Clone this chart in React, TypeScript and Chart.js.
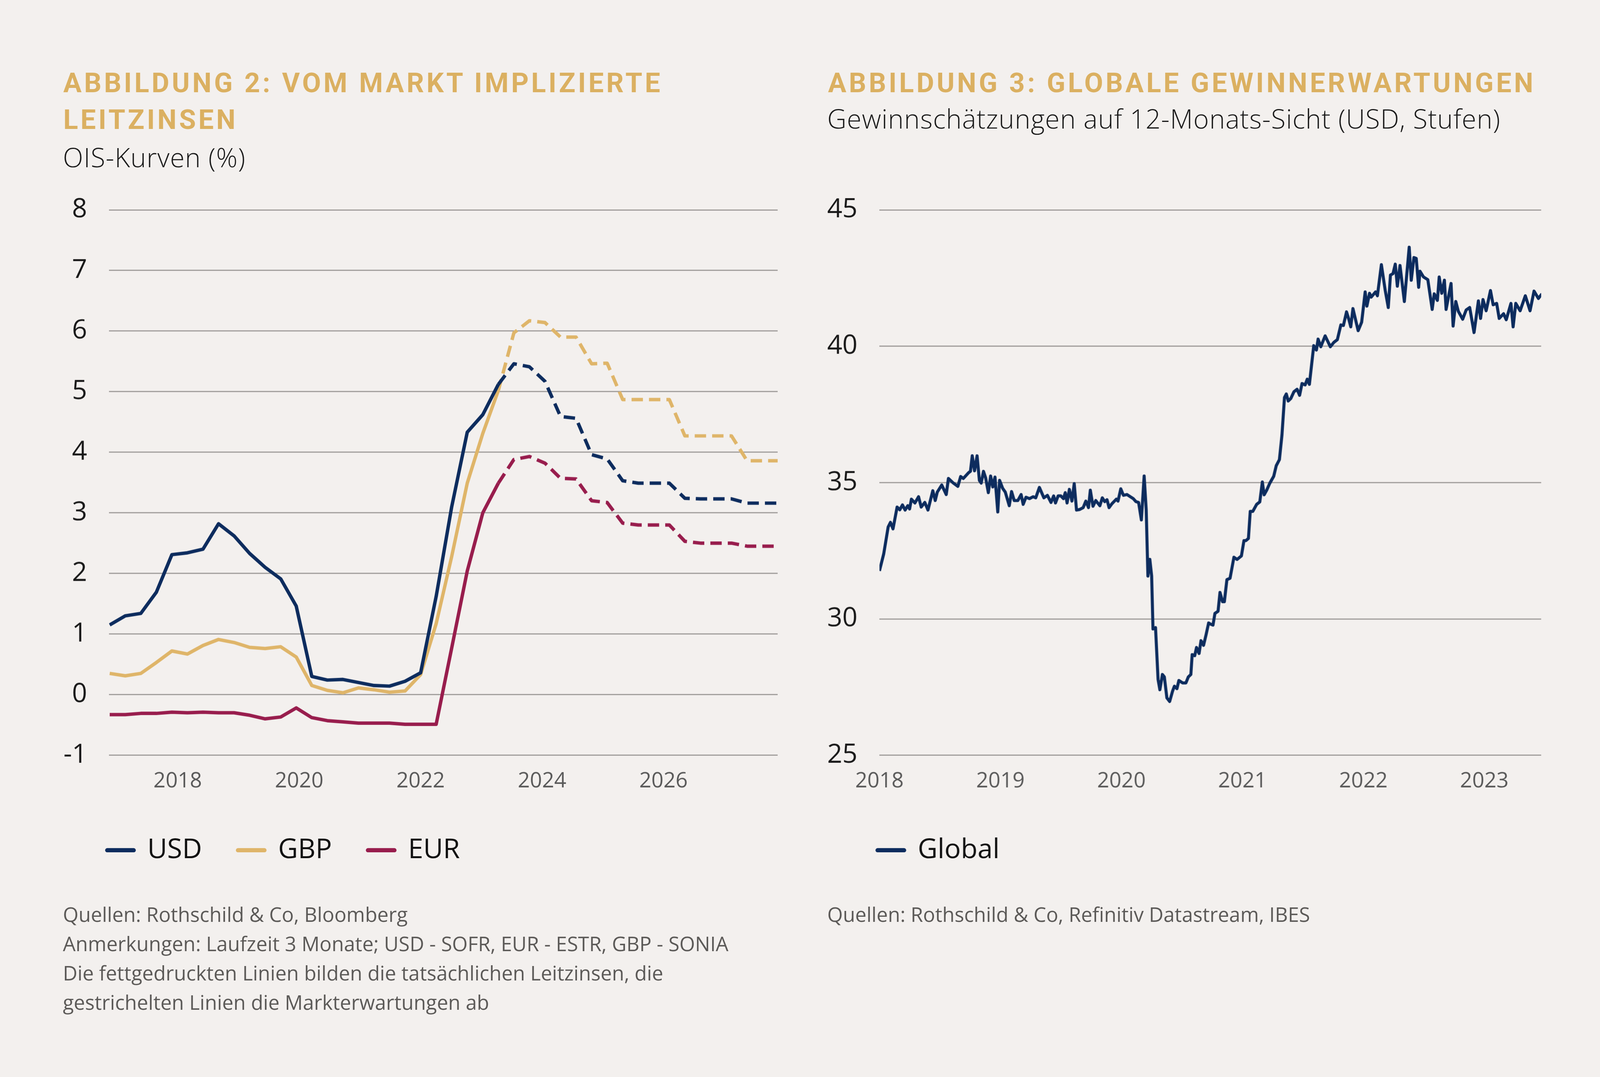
import { useEffect, useRef } from 'react'
import { Chart, ChartConfiguration, registerables } from 'chart.js'

Chart.register(...registerables)

// layout is designed on a 4224 x 2756 page; scale it to the real viewport
const SX = typeof window !== 'undefined' && window.innerWidth ? window.innerWidth / 4224 : 1
const SY = typeof window !== 'undefined' && window.innerHeight ? window.innerHeight / 2756 : 1
const px = (n: number) => n * SX
const py = (n: number) => n * SY

const NAVY = '#0d2c5e'
const GOLD = '#dfb569'
const WINE = '#981d4d'
const GRID = '#a09d9b'
const BG = '#f3f0ee'
const TITLE_GOLD = '#dbb061'
const SANS = '"Open Sans", "Noto Sans", sans-serif'

// Abbildung 2: quarterly observations, first one late 2016
const obsStart = 2016.88
const obsStep = 0.256 // years between observations
const forecastFrom = 25 // index where the dashed (market expectation) part starts

const usdActual = [1.15, 1.3, 1.34, 1.69, 2.31, 2.34, 2.4, 2.82, 2.62, 2.33, 2.1, 1.91, 1.46, 0.3, 0.24, 0.25, 0.2, 0.15, 0.14, 0.22, 0.36, 1.62, 3.1, 4.33, 4.62, 5.12]
const gbpActual = [0.35, 0.31, 0.35, 0.53, 0.72, 0.67, 0.81, 0.91, 0.86, 0.78, 0.76, 0.79, 0.62, 0.15, 0.07, 0.03, 0.11, 0.08, 0.04, 0.06, 0.33, 1.17, 2.28, 3.49, 4.31, 5.02]
const eurActual = [-0.33, -0.33, -0.31, -0.31, -0.29, -0.3, -0.29, -0.3, -0.3, -0.34, -0.4, -0.37, -0.22, -0.38, -0.43, -0.45, -0.47, -0.47, -0.47, -0.49, -0.49, -0.49, 0.77, 2.04, 3.0, 3.49]

const usdExpected = [5.12, 5.46, 5.41, 5.17, 4.59, 4.56, 3.96, 3.89, 3.53, 3.49, 3.49, 3.49, 3.24, 3.23, 3.23, 3.23, 3.16, 3.16, 3.16]
const gbpExpected = [5.02, 5.97, 6.17, 6.14, 5.9, 5.9, 5.46, 5.47, 4.87, 4.87, 4.87, 4.87, 4.27, 4.27, 4.27, 4.27, 3.86, 3.86, 3.86]
const eurExpected = [3.49, 3.88, 3.93, 3.82, 3.57, 3.56, 3.2, 3.17, 2.83, 2.8, 2.8, 2.8, 2.53, 2.5, 2.5, 2.5, 2.45, 2.45, 2.45]

const rateYearTicks = [2018, 2020, 2022, 2024, 2026]

// Abbildung 3: 12m forward EPS, global (USD)
const globalDates = [
  2018.0, 2018.035, 2018.072, 2018.091, 2018.112, 2018.146, 2018.168, 2018.19, 2018.212, 2018.234,
  2018.249, 2018.264, 2018.293, 2018.323, 2018.345, 2018.375, 2018.401, 2018.441, 2018.461, 2018.478,
  2018.515, 2018.552, 2018.57, 2018.611, 2018.648, 2018.671, 2018.693, 2018.737, 2018.752, 2018.767,
  2018.786, 2018.807, 2018.826, 2018.841, 2018.86, 2018.878, 2018.9, 2018.919, 2018.937, 2018.955,
  2018.978, 2018.993, 2019.018, 2019.04, 2019.073, 2019.092, 2019.114, 2019.144, 2019.171, 2019.188,
  2019.211, 2019.24, 2019.27, 2019.292, 2019.322, 2019.359, 2019.388, 2019.418, 2019.44, 2019.455,
  2019.477, 2019.499, 2019.521, 2019.536, 2019.551, 2019.57, 2019.591, 2019.61, 2019.629, 2019.654,
  2019.684, 2019.706, 2019.728, 2019.743, 2019.765, 2019.788, 2019.822, 2019.842, 2019.862, 2019.881,
  2019.898, 2019.921, 2019.958, 2019.972, 2019.995, 2020.017, 2020.046, 2020.098, 2020.12, 2020.142,
  2020.165, 2020.188, 2020.205, 2020.219, 2020.235, 2020.25, 2020.261, 2020.282, 2020.303, 2020.318,
  2020.339, 2020.355, 2020.376, 2020.399, 2020.423, 2020.438, 2020.459, 2020.475, 2020.506, 2020.533,
  2020.553, 2020.574, 2020.585, 2020.606, 2020.621, 2020.642, 2020.658, 2020.679, 2020.7, 2020.721,
  2020.736, 2020.757, 2020.773, 2020.799, 2020.815, 2020.836, 2020.851, 2020.872, 2020.898, 2020.93,
  2020.956, 2020.992, 2021.013, 2021.029, 2021.05, 2021.065, 2021.086, 2021.118, 2021.144, 2021.165,
  2021.18, 2021.201, 2021.227, 2021.259, 2021.28, 2021.306, 2021.327, 2021.348, 2021.363, 2021.379,
  2021.4, 2021.426, 2021.452, 2021.473, 2021.493, 2021.519, 2021.536, 2021.554, 2021.59, 2021.612,
  2021.626, 2021.648, 2021.684, 2021.727, 2021.756, 2021.785, 2021.814, 2021.835, 2021.861, 2021.881,
  2021.896, 2021.914, 2021.957, 2021.986, 2022.015, 2022.029, 2022.051, 2022.065, 2022.101, 2022.116,
  2022.149, 2022.181, 2022.206, 2022.224, 2022.245, 2022.264, 2022.281, 2022.303, 2022.339, 2022.379,
  2022.396, 2022.418, 2022.437, 2022.457, 2022.468, 2022.497, 2022.533, 2022.569, 2022.586, 2022.612,
  2022.627, 2022.648, 2022.67, 2022.684, 2022.725, 2022.742, 2022.764, 2022.785, 2022.821, 2022.85,
  2022.879, 2022.915, 2022.951, 2022.969, 2022.989, 2023.015, 2023.051, 2023.073, 2023.102, 2023.123,
  2023.159, 2023.181, 2023.22, 2023.238, 2023.26, 2023.296, 2023.339, 2023.378, 2023.411, 2023.447,
  2023.476,
]
const globalEps = [
  31.76, 32.38, 33.37, 33.54, 33.3, 34.1, 34.0, 34.18, 33.99, 34.15,
  34.03, 34.39, 34.25, 34.48, 34.1, 34.27, 33.99, 34.7, 34.34, 34.65,
  34.91, 34.56, 35.15, 34.98, 34.86, 35.22, 35.15, 35.36, 35.41, 35.98,
  35.43, 35.98, 35.08, 34.98, 35.41, 35.17, 34.63, 35.24, 34.84, 35.2,
  33.92, 35.08, 34.79, 34.65, 34.15, 34.67, 34.34, 34.34, 34.56, 34.2,
  34.46, 34.41, 34.48, 34.44, 34.82, 34.44, 34.53, 34.27, 34.51, 34.25,
  34.51, 34.51, 34.41, 34.63, 34.25, 34.75, 34.32, 34.96, 33.99, 34.01,
  34.08, 34.32, 34.08, 34.72, 34.13, 34.34, 34.15, 34.44, 34.3, 34.37,
  34.08, 34.22, 34.39, 34.32, 34.77, 34.53, 34.56, 34.41, 34.3, 34.27,
  33.63, 35.24, 34.0, 31.57, 32.18, 31.57, 29.63, 29.68, 27.78, 27.4,
  27.96, 27.87, 27.1, 26.97, 27.35, 27.53, 27.44, 27.74, 27.65, 27.65,
  27.87, 27.96, 28.69, 28.65, 28.95, 28.73, 29.2, 29.03, 29.42, 29.85,
  29.81, 29.77, 30.2, 30.28, 30.97, 30.63, 30.63, 31.44, 31.49, 32.26,
  32.18, 32.31, 32.87, 32.87, 32.95, 33.94, 33.94, 34.2, 34.29, 35.02,
  34.55, 34.72, 34.98, 35.23, 35.62, 35.84, 36.74, 38.12, 38.25, 37.99,
  38.08, 38.33, 38.42, 38.2, 38.63, 38.58, 38.79, 38.6, 40.02, 39.86,
  40.26, 39.98, 40.38, 39.98, 40.14, 40.24, 40.78, 40.76, 41.26, 40.97,
  40.71, 41.38, 40.57, 40.88, 41.99, 41.47, 41.94, 41.8, 41.99, 41.85,
  42.99, 42.04, 41.42, 42.61, 42.66, 43.01, 42.2, 42.96, 41.64, 43.63,
  42.42, 43.25, 43.22, 42.16, 42.75, 42.54, 42.44, 41.35, 41.92, 41.68,
  42.54, 41.94, 42.42, 41.35, 42.3, 40.74, 41.64, 41.28, 40.99, 41.33,
  41.42, 40.5, 41.66, 41.02, 41.71, 41.3, 42.04, 41.52, 41.57, 41.02,
  41.19, 40.97, 41.57, 40.71, 41.57, 41.3, 41.85, 41.3, 42.02, 41.75,
  41.92,
]
const epsYearTicks = [2018, 2019, 2020, 2021, 2022, 2023]

const toPoints = (values: number[], offset: number) =>
  values.map((y, k) => ({ x: obsStart + (offset + k) * obsStep, y }))

const LEGEND_PAD = 95
const LEGEND_FONT = 72
const X_AXIS_H = 116
// canvas height so that the plot spans y = 525 .. 1932 of the design page
const CANVAS_H = py(1608) + px(LEGEND_FONT + LEGEND_PAD + 10)

function legendLabels(chart: Chart) {
  return chart.data.datasets
    .map((ds: any, i) => ({ ds, i }))
    .filter(({ ds }) => !ds.borderDash)
    .map(({ ds, i }) => ({
      text: ds.label,
      strokeStyle: ds.borderColor,
      fillStyle: ds.borderColor,
      fontColor: '#111111',
      lineWidth: px(11),
      lineCap: 'round',
      pointStyle: 'line',
      datasetIndex: i,
      hidden: false,
    }))
}

// start the legend right under the plot area instead of at the canvas edge
const legendUnderPlot = {
  id: 'legendUnderPlot',
  afterLayout(chart: any) {
    const lg = chart.legend
    if (!lg) return
    const w = lg.right - lg.left
    lg.left = chart.chartArea.left - px(5) - px(LEGEND_PAD)
    lg.right = lg.left + w
  },
}

function baseOptions(xMin: number, xMax: number, yearTicks: number[], yMin: number, yMax: number, yStep: number): any {
  return {
    animation: false,
    responsive: true,
    maintainAspectRatio: false,
    events: [],
    layout: { padding: { left: px(40), top: py(85), right: px(20), bottom: 0 } },
    elements: { point: { radius: 0 }, line: { tension: 0, borderJoinStyle: 'round' } },
    plugins: {
      tooltip: { enabled: false },
      legend: {
        position: 'bottom',
        align: 'start',
        labels: {
          usePointStyle: true,
          pointStyleWidth: px(70),
          padding: px(LEGEND_PAD),
          color: '#111111',
          font: { family: SANS, size: px(LEGEND_FONT) },
          generateLabels: legendLabels,
        },
      },
    },
    scales: {
      x: {
        type: 'linear',
        min: xMin,
        max: xMax,
        afterBuildTicks: (scale: any) => {
          scale.ticks = yearTicks.map((v) => ({ value: v }))
        },
        afterFit: (scale: any) => {
          scale.height = py(X_AXIS_H)
        },
        grid: { display: false, drawTicks: false },
        border: { display: false },
        ticks: {
          autoSkip: false,
          maxRotation: 0,
          padding: py(34),
          color: '#5a5a5a',
          font: { family: SANS, size: px(56) },
          callback: (v: any) => String(v),
        },
      },
      y: {
        min: yMin,
        max: yMax,
        afterFit: (scale: any) => {
          scale.width = px(148)
        },
        grid: { color: GRID, lineWidth: px(3), drawTicks: false },
        border: { display: false },
        ticks: {
          stepSize: yStep,
          padding: px(58),
          color: '#1a1a1a',
          font: { family: SANS, size: px(70) },
          callback: (v: any) => String(v),
        },
      },
    },
  }
}

function RatesChart() {
  const canvasRef = useRef<HTMLCanvasElement>(null)

  useEffect(() => {
    if (!canvasRef.current) return
    const solid = (label: string, values: number[], color: string) => ({
      label,
      data: toPoints(values, 0),
      borderColor: color,
      backgroundColor: color,
      borderWidth: px(9),
    })
    const dashed = (label: string, values: number[], color: string) => ({
      label,
      data: toPoints(values, forecastFrom),
      borderColor: color,
      backgroundColor: color,
      borderWidth: px(9),
      borderDash: [px(30), px(16)],
    })
    const config: ChartConfiguration = {
      type: 'line',
      data: {
        datasets: [
          solid('USD', usdActual, NAVY),
          solid('GBP', gbpActual, GOLD),
          solid('EUR', eurActual, WINE),
          dashed('USD Erwartung', usdExpected, NAVY),
          dashed('GBP Erwartung', gbpExpected, GOLD),
          dashed('EUR Erwartung', eurExpected, WINE),
        ] as any,
      },
      options: baseOptions(2016.87, 2027.88, rateYearTicks, -1, 8, 1),
      plugins: [legendUnderPlot],
    }
    const chart = new Chart(canvasRef.current, config)
    return () => chart.destroy()
  }, [])

  return (
    <div style={{ position: 'absolute', left: px(100), top: py(440), width: px(1973), height: CANVAS_H }}>
      <canvas ref={canvasRef} />
    </div>
  )
}

function EarningsChart() {
  const canvasRef = useRef<HTMLCanvasElement>(null)

  useEffect(() => {
    if (!canvasRef.current) return
    const config: ChartConfiguration = {
      type: 'line',
      data: {
        datasets: [
          {
            label: 'Global',
            data: globalDates.map((x, i) => ({ x, y: globalEps[i] })),
            borderColor: NAVY,
            backgroundColor: NAVY,
            borderWidth: px(8),
          },
        ] as any,
      },
      options: baseOptions(2018, 2023.47, epsYearTicks, 25, 45, 5),
      plugins: [legendUnderPlot],
    }
    const chart = new Chart(canvasRef.current, config)
    return () => chart.destroy()
  }, [])

  return (
    <div style={{ position: 'absolute', left: px(2134), top: py(440), width: px(1954), height: CANVAS_H }}>
      <canvas ref={canvasRef} />
    </div>
  )
}

const titleStyle: React.CSSProperties = {
  position: 'absolute',
  top: py(165),
  margin: 0,
  fontFamily: 'Roboto, "Open Sans", sans-serif',
  fontWeight: 700,
  fontSize: px(72),
  lineHeight: `${py(94)}px`,
  letterSpacing: px(6.6),
  color: TITLE_GOLD,
  whiteSpace: 'nowrap',
}

const subtitleStyle: React.CSSProperties = {
  position: 'absolute',
  margin: 0,
  fontFamily: SANS,
  fontWeight: 300,
  fontSize: px(70),
  lineHeight: `${py(96)}px`,
  letterSpacing: px(1.2),
  color: '#1a1a1a',
  whiteSpace: 'nowrap',
}

const noteStyle: React.CSSProperties = {
  position: 'absolute',
  top: py(2302),
  margin: 0,
  fontFamily: SANS,
  fontWeight: 400,
  fontSize: px(53),
  lineHeight: `${py(75)}px`,
  color: '#5c5a58',
  whiteSpace: 'nowrap',
}

export default function App() {
  return (
    <div style={{ position: 'fixed', left: 0, top: 0, width: px(4224), height: py(2756), background: BG, overflow: 'hidden' }}>
      <div style={{ ...titleStyle, left: px(167) }}>
        ABBILDUNG 2: VOM MARKT IMPLIZIERTE
        <br />
        LEITZINSEN
      </div>
      <div style={{ ...subtitleStyle, left: px(166), top: py(354) }}>OIS-Kurven (%)</div>
      <RatesChart />
      <div style={{ ...noteStyle, left: px(166) }}>
        Quellen: Rothschild &amp; Co, Bloomberg
        <br />
        Anmerkungen: Laufzeit 3 Monate; USD - SOFR, EUR - ESTR, GBP - SONIA
        <br />
        Die fettgedruckten Linien bilden die tatsächlichen Leitzinsen, die
        <br />
        gestrichelten Linien die Markterwartungen ab
      </div>

      <div style={{ ...titleStyle, left: px(2186) }}>ABBILDUNG 3: GLOBALE GEWINNERWARTUNGEN</div>
      <div style={{ ...subtitleStyle, left: px(2184), top: py(255) }}>
        Gewinnschätzungen auf 12-Monats-Sicht (USD, Stufen)
      </div>
      <EarningsChart />
      <div style={{ ...noteStyle, left: px(2184) }}>Quellen: Rothschild &amp; Co, Refinitiv Datastream, IBES</div>
    </div>
  )
}
